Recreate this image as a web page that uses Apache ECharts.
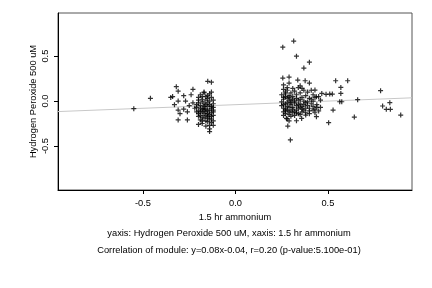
<!DOCTYPE html>
<html>
<head>
<meta charset="utf-8">
<script src="https://cdn.jsdelivr.net/npm/echarts@6/dist/echarts.min.js"></script>
<style>
  html, body { margin: 0; padding: 0; background: #fff; }
  #chart { width: 432px; height: 288px; }
</style>
</head>
<body>
<div id="chart"></div>
<script>
// 축 눈금
var xTicks = [-0.5, 0, 0.5];
var yTicks = [-0.5, 0, 0.5];

// 왼쪽 군집 (밀집)
var leftDense = [
  [-0.19,-0.05],[-0.17,-0.08],[-0.15,-0.02],[-0.13,-0.06],[-0.18,0.02],[-0.16,0.05],[-0.14,0.08],
  [-0.2,-0.11],[-0.12,-0.1],[-0.17,-0.14],[-0.15,-0.17],[-0.19,-0.16],[-0.13,-0.2],[-0.16,-0.22],
  [-0.18,-0.25],[-0.14,-0.27],[-0.2,-0.02],[-0.21,-0.07],[-0.12,-0.03],[-0.14,0.0],[-0.16,-0.04],
  [-0.18,-0.09],[-0.15,-0.11],[-0.13,-0.13],[-0.17,0.09],[-0.19,0.07],[-0.13,0.04],[-0.15,0.03],
  [-0.12,0.01],[-0.2,0.04],[-0.16,-0.12],[-0.14,-0.15],[-0.18,-0.18],[-0.12,-0.16],[-0.2,-0.14],
  [-0.17,-0.19],[-0.15,-0.23],[-0.13,-0.24],[-0.19,-0.21],[-0.16,-0.28],[-0.14,-0.31],[-0.18,-0.01],
  [-0.13,-0.08],[-0.15,-0.06],[-0.17,-0.03],[-0.19,-0.08],[-0.21,-0.12],[-0.12,-0.12],[-0.14,-0.1],
  [-0.16,-0.09],[-0.18,-0.12],[-0.2,-0.17],[-0.13,-0.17],[-0.15,-0.14],[-0.17,-0.1],[-0.19,-0.12],
  [-0.14,-0.04],[-0.16,0.01],[-0.12,-0.07],[-0.18,0.05],[-0.2,0.01],[-0.15,0.06],[-0.13,0.1],
  [-0.17,-0.06],[-0.21,-0.04],[-0.16,-0.16],[-0.14,-0.2],[-0.12,-0.22],[-0.18,-0.22],[-0.15,-0.19]
];

// 왼쪽 군집 (흩어진 점)
var leftSparse = [
  [-0.32,0.16],[-0.31,0.11],[-0.34,0.05],[-0.35,0.04],[-0.31,0.0],[-0.28,0.06],[-0.27,0.0],
  [-0.24,0.07],[-0.23,0.13],[-0.33,-0.04],[-0.31,-0.1],[-0.3,-0.14],[-0.31,-0.21],[-0.26,-0.21],
  [-0.2,-0.26],[-0.15,0.22],[-0.13,0.21],[-0.17,0.1],[-0.14,-0.34],[-0.12,-0.27],[-0.25,-0.05],
  [-0.28,-0.09],[-0.23,-0.02],[-0.26,-0.12],[-0.22,-0.08]
];

// 오른쪽 군집 (밀집)
var rightDense = [
  [0.26,0.02],[0.27,-0.03],[0.28,-0.06],[0.26,-0.08],[0.29,0.0],[0.3,-0.04],[0.31,-0.07],[0.27,0.05],
  [0.25,-0.01],[0.28,-0.1],[0.26,-0.12],[0.3,-0.11],[0.32,-0.02],[0.33,-0.05],[0.34,-0.08],[0.29,0.04],
  [0.31,0.02],[0.27,-0.14],[0.29,-0.15],[0.32,-0.12],[0.35,-0.03],[0.36,-0.06],[0.37,-0.1],[0.34,0.01],
  [0.38,-0.02],[0.39,-0.05],[0.4,-0.08],[0.41,-0.03],[0.42,-0.06],[0.43,-0.09],[0.44,-0.04],[0.45,-0.11],
  [0.42,0.0],[0.4,0.03],[0.38,0.06],[0.36,0.04],[0.33,0.07],[0.3,0.09],[0.27,0.1],[0.26,0.13],
  [0.28,0.12],[0.32,0.11],[0.35,0.09],[0.39,0.1],[0.42,0.07],[0.45,0.05],[0.46,0.01],[0.25,-0.05],
  [0.26,-0.16],[0.28,-0.2],[0.3,-0.17],[0.32,-0.16],[0.34,-0.14],[0.36,-0.12],[0.38,-0.13],[0.4,-0.14],
  [0.43,-0.13],[0.46,-0.07],[0.27,-0.09],[0.29,-0.07],[0.31,-0.09],[0.33,-0.1],[0.35,-0.07],[0.37,-0.04],
  [0.39,-0.01],[0.41,0.02],[0.43,0.04],[0.25,0.07],[0.27,0.08],[0.29,0.06],[0.31,0.05],[0.33,0.03],
  [0.35,0.02],[0.37,0.0],[0.26,-0.04],[0.28,-0.02],[0.3,0.01],[0.32,0.0],[0.34,-0.04],[0.36,-0.09],
  [0.38,-0.08],[0.4,-0.11],[0.42,-0.1],[0.44,-0.07],[0.26,0.04],[0.28,0.03],[0.3,-0.02],[0.27,-0.11],
  [0.29,-0.12],[0.31,-0.13],[0.33,-0.13],[0.35,-0.15],[0.28,0.15],[0.31,0.14],[0.26,0.18],[0.29,0.2],
  [0.34,0.15],[0.37,0.12],[0.41,0.12]
];

// 오른쪽 군집 (흩어진 점)
var rightSparse = [
  [0.315,0.667],[0.256,0.6],[0.33,0.5],[0.40,0.433],[0.37,0.367],[0.256,0.256],[0.29,0.267],
  [0.337,0.233],[0.377,0.226],[0.40,0.2],[0.36,0.14],[0.35,0.17],[0.542,0.226],[0.607,0.226],
  [0.57,0.152],[0.43,0.122],[0.57,0.085],[0.467,0.085],[0.49,0.075],[0.51,0.078],[0.524,0.078],
  [0.438,0.048],[0.564,-0.008],[0.575,-0.008],[0.661,0.015],[0.785,0.115],[0.835,-0.018],
  [0.796,-0.055],[0.816,-0.092],[0.838,-0.092],[0.894,-0.156],[0.643,-0.178],[0.504,-0.241],
  [0.528,-0.1],[0.297,-0.433],[0.283,-0.278],[0.438,-0.174],[0.33,-0.219],[0.358,-0.193],
  [0.38,-0.156],[0.276,-0.193],[0.29,-0.22]
];

// 외곽 점
var outliers = [[-0.55,-0.085],[-0.46,0.03]];

// 회귀선 양 끝점
var regLine = [[-0.96,-0.117],[0.955,0.036]];

var textFont = 'Liberation Sans, Arial, sans-serif';
var textSize = 9.3;
var allPoints = leftDense.concat(leftSparse, rightDense, rightSparse, outliers);

var myChart = echarts.init(document.getElementById('chart'));
myChart.setOption({
  animation: false,
  title: [
    {
      text: 'yaxis: Hydrogen Peroxide 500 uM, xaxis: 1.5 hr ammonium',
      left: 224, top: 224, textAlign: 'center',
      textStyle: { fontSize: textSize, fontWeight: 'normal', color: '#000', fontFamily: textFont }
    },
    {
      text: 'Correlation of module: y=0.08x-0.04, r=0.20 (p-value:5.100e-01)',
      left: 224, top: 241, textAlign: 'center',
      textStyle: { fontSize: textSize, fontWeight: 'normal', color: '#000', fontFamily: textFont }
    }
  ],
  grid: {
    left: 58, right: 20, top: 13, bottom: 98,
    show: true, borderColor: '#555', borderWidth: 1
  },
  xAxis: {
    type: 'value',
    min: -0.96, max: 0.955,
    name: '1.5 hr ammonium',
    nameLocation: 'middle',
    nameGap: 23,
    nameMoveOverlap: false,
    nameTextStyle: { fontSize: textSize, color: '#000', fontFamily: textFont },
    axisLine: { show: true, onZero: false, lineStyle: { color: '#000' } },
    axisTick: { show: true, length: 4, customValues: xTicks, lineStyle: { color: '#000' } },
    axisLabel: {
      customValues: xTicks, margin: 9, fontSize: textSize, color: '#000', fontFamily: textFont,
      formatter: function (v) { return v.toFixed(1); }
    },
    splitLine: { show: false }
  },
  yAxis: {
    type: 'value',
    min: -0.99, max: 0.98,
    name: 'Hydrogen Peroxide 500 uM',
    nameLocation: 'middle',
    nameGap: 20,
    nameRotate: 90,
    nameMoveOverlap: false,
    nameTextStyle: { fontSize: textSize, color: '#000', fontFamily: textFont },
    axisLine: { show: true, onZero: false, lineStyle: { color: '#000' } },
    axisTick: { show: true, length: 4, customValues: yTicks, lineStyle: { color: '#000' } },
    axisLabel: {
      customValues: yTicks, rotate: 90, margin: 8, fontSize: textSize, color: '#000', fontFamily: textFont,
      formatter: function (v) { return v.toFixed(1); }
    },
    splitLine: { show: false }
  },
  series: [
    {
      type: 'line',
      data: regLine,
      symbol: 'none',
      lineStyle: { color: '#c8c8c8', width: 1 },
      z: 1
    },
    {
      type: 'scatter',
      data: allPoints,
      symbol: 'path://M0,-1L0,1M-1,0L1,0',
      symbolSize: 5,
      itemStyle: { color: 'none', borderColor: '#000', borderWidth: 1.2 },
      z: 2
    }
  ]
});
</script>
</body>
</html>
